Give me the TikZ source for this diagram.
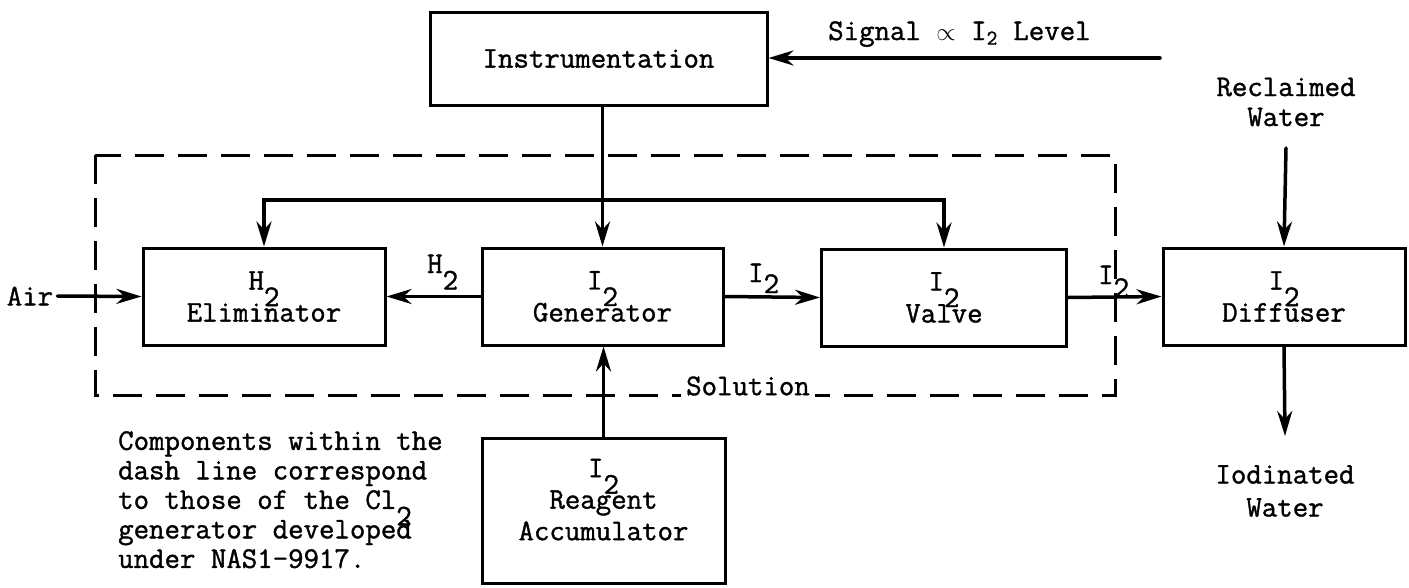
\documentclass[tikz,border=0pt]{standalone}
\usepackage{fontspec}
\setmonofont{Latin Modern Mono}[FakeBold=1.2]
\usetikzlibrary{arrows.meta}
% a typewriter-style subscript: full-size digit dropped below the line
\newcommand\lowsub[1]{\raisebox{-0.55em}[0pt][0pt]{#1}}
\begin{document}
\begin{tikzpicture}[x=1pt,y=-1pt,
  every node/.style={font=\ttfamily\fontsize{30}{32}\selectfont, inner sep=0pt},
  blk/.style={draw, line width=3pt, align=center},
  flow/.style={line width=3.5pt, line cap=round,
    -{Stealth[length=25pt,width=15pt,inset=8pt]}},
  bound/.style={line width=3pt, dash pattern=on 29pt off 14pt}]
\useasboundingbox (0,0) rectangle (1409,587);

% solution boundary
\draw[bound] (95,155) rectangle (1115,395);
\node[fill=white, inner xsep=5pt, inner ysep=2pt] (sol) at (748,386) {Solution};

% blocks
\node[blk, minimum width=337pt, minimum height=93pt] (instr) at (598.5,58.5) {Instrumentation};
\node[blk, minimum width=242pt, minimum height=97pt] (elim) at (264,296.5) {H\lowsub{2}\\Eliminator};
\node[blk, minimum width=241pt, minimum height=97pt] (gen) at (602.5,296.5) {I\lowsub{2}\\Generator};
\node[blk, minimum width=245pt, minimum height=97pt] (valve) at (944,297.5) {I\lowsub{2}\\Valve};
\node[blk, minimum width=242pt, minimum height=97pt] (diff) at (1284,296.5) {I\lowsub{2}\\Diffuser};
\node[blk, minimum width=243pt, minimum height=145pt, text depth=22pt,
  font=\ttfamily\fontsize{30}{31.5}\selectfont]
  (acc) at (603.5,510.5) {I\lowsub{2}\\Reagent\\Accumulator};

% free labels
\node (air) at (30,296) {Air};
\node[anchor=base west] (sig) at (828,40) {Signal $\propto$ I\textsubscript{2} Level};
\node[align=center, font=\ttfamily\fontsize{30}{30}\selectfont] (rec) at (1286,102) {Reclaimed\\Water};
\node[align=center, font=\ttfamily\fontsize{30}{33}\selectfont] (iod) at (1285,491) {Iodinated\\Water};
\node[anchor=base west] (lh) at (427,273) {H\lowsub{2}};
\node[anchor=base west] (li1) at (748,282) {I\raisebox{-11pt}{2}};
\node[anchor=base west] (li2) at (1098,284) {I\raisebox{-13pt}{2}};
\node[anchor=north west, align=left, font=\ttfamily\fontsize{30}{29.5}\selectfont] (note) at (118,431)
  {Components within the\\dash line correspond\\to those of the Cl\lowsub{2}\\generator developed\\under NAS1-9917.};

% connector end points
\coordinate (sigin) at (1160,58);
\coordinate (bus) at (gen.north |- 0,200);
\coordinate (recin) at (1286,148);
\coordinate (iodout) at (1285,436);

% control lines
\draw[flow] (sigin) -- (sigin -| instr.east);
\draw[flow] (gen.north |- instr.south) -- (gen.north);
\draw[flow] (bus) -| (elim.north);
\draw[flow] (bus) -| (valve.north);

% process flow
\draw[flow] (air.east) ++(4,0) -- (elim.west);
\draw[flow] (gen.west) -- (elim.east);
\draw[flow] (gen.east) -- (valve.west);
\draw[flow] (valve.east) -- (diff.west);
\draw[flow] (acc.north) -- (acc.north |- gen.south);
\draw[flow] (recin) -- (diff.north);
\draw[flow] (diff.south) -- (iodout);
\end{tikzpicture}
\end{document}
